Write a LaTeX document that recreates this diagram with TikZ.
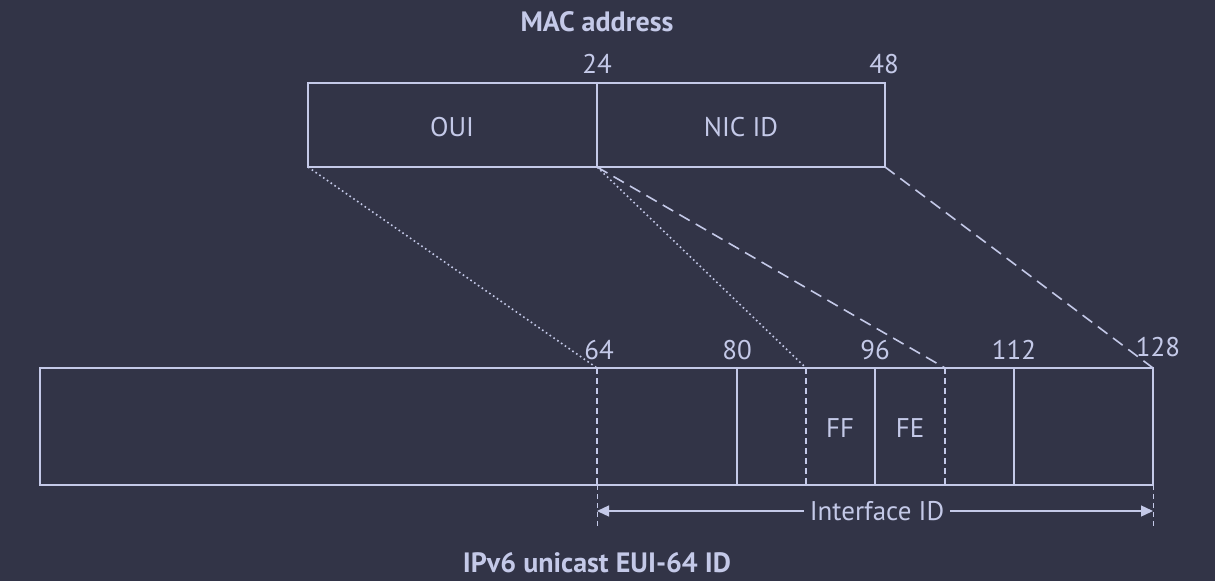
\documentclass[tikz,border=0pt]{standalone}
\usepackage{fontspec}
\setmainfont{PT Sans}
\usetikzlibrary{arrows.meta}
\begin{document}
\begin{tikzpicture}[x=1pt,y=-1pt,
  every node/.style={text=fg,font=\fontsize{27}{30}\selectfont,inner sep=0pt},
  box/.style={draw=fg,line width=1.4pt},
  sep/.style={draw=fg,line width=1.4pt},
  dsep/.style={draw=fg,line width=1.4pt,dash pattern=on 6pt off 4pt},
  dotline/.style={draw=fg,line width=1.6pt,dash pattern=on 1.6pt off 3pt},
  dashline/.style={draw=fg,line width=1.6pt,dash pattern=on 12pt off 7pt},
  title/.style={font=\bfseries\fontsize{28}{32}\selectfont}]
\definecolor{bg}{RGB}{50,52,71}
\definecolor{fg}{RGB}{196,201,232}
\fill[bg] (0,0) rectangle (1215,581);
\useasboundingbox (0,0) rectangle (1215,581);
% MAC box
\coordinate (m0) at (308,83); \coordinate (m1) at (885,167);
\draw[box] (m0) rectangle (m1);
\coordinate (m24t) at (597,83); \coordinate (m24b) at (597,167);
\coordinate (mLb) at (308,167);
\draw[sep] (m24t) -- (m24b);
\node[title] (mac) at (597,22) {MAC address};
\node (l24) at (597,64) {24};
\node (l48) at (884,64) {48};
\node (oui) at (452,127) {OUI};
\node (nic) at (741,127) {NIC ID};
% IPv6 box
\coordinate (b0) at (40,368); \coordinate (b1) at (1153,485);
\draw[box] (b0) rectangle (b1);
\coordinate (c64t) at (597,368); \coordinate (c64b) at (597,485);
\coordinate (c80t) at (737,368); \coordinate (c80b) at (737,485);
\coordinate (cFt) at (806,368); \coordinate (cFb) at (806,485);
\coordinate (c96t) at (875,368); \coordinate (c96b) at (875,485);
\coordinate (cEt) at (945,368); \coordinate (cEb) at (945,485);
\coordinate (c112t) at (1014,368); \coordinate (c112b) at (1014,485);
\coordinate (c128t) at (1153,368);
\draw[dsep] (c64t) -- (c64b);
\draw[sep] (c80t) -- (c80b);
\draw[dsep] (cFt) -- (cFb);
\draw[sep] (c96t) -- (c96b);
\draw[dsep] (cEt) -- (cEb);
\draw[sep] (c112t) -- (c112b);
\node (l64) at (599,350) {64};
\node (l80) at (737,350) {80};
\node (l96) at (875,350) {96};
\node (l112) at (1014,350) {112};
\node (l128) at (1158,347) {128};
\node (ff) at (840,428) {FF};
\node (fe) at (910,428) {FE};
% mapping lines
\draw[dotline] (mLb) -- (c64t);
\draw[dotline] (m24b) -- (cFt);
\draw[dashline] (m24b) -- (cEt);
\draw[dashline] (m1) -- (c128t);
% interface ID
\coordinate (t1a) at (597,485); \coordinate (t1b) at (597,528);
\coordinate (t2a) at (1153,485); \coordinate (t2b) at (1153,528);
\draw[draw=fg,line width=1pt,dash pattern=on 5pt off 4pt] (t1a) -- (t1b);
\draw[draw=fg,line width=1pt,dash pattern=on 5pt off 4pt] (t2a) -- (t2b);
\coordinate (a1) at (597,511); \coordinate (a2) at (1153,511);
\node[fill=bg,inner xsep=6pt] (iid) at (877,511) {Interface ID};
\draw[draw=fg,line width=1.3pt,-{Triangle[length=12pt,width=11pt]}] (iid.west) -- (a1);
\draw[draw=fg,line width=1.3pt,-{Triangle[length=12pt,width=11pt]}] (iid.east) -- (a2);
\node[title] (ipv6) at (597,563) {IPv6 unicast EUI-64 ID};
\end{tikzpicture}
\end{document}
